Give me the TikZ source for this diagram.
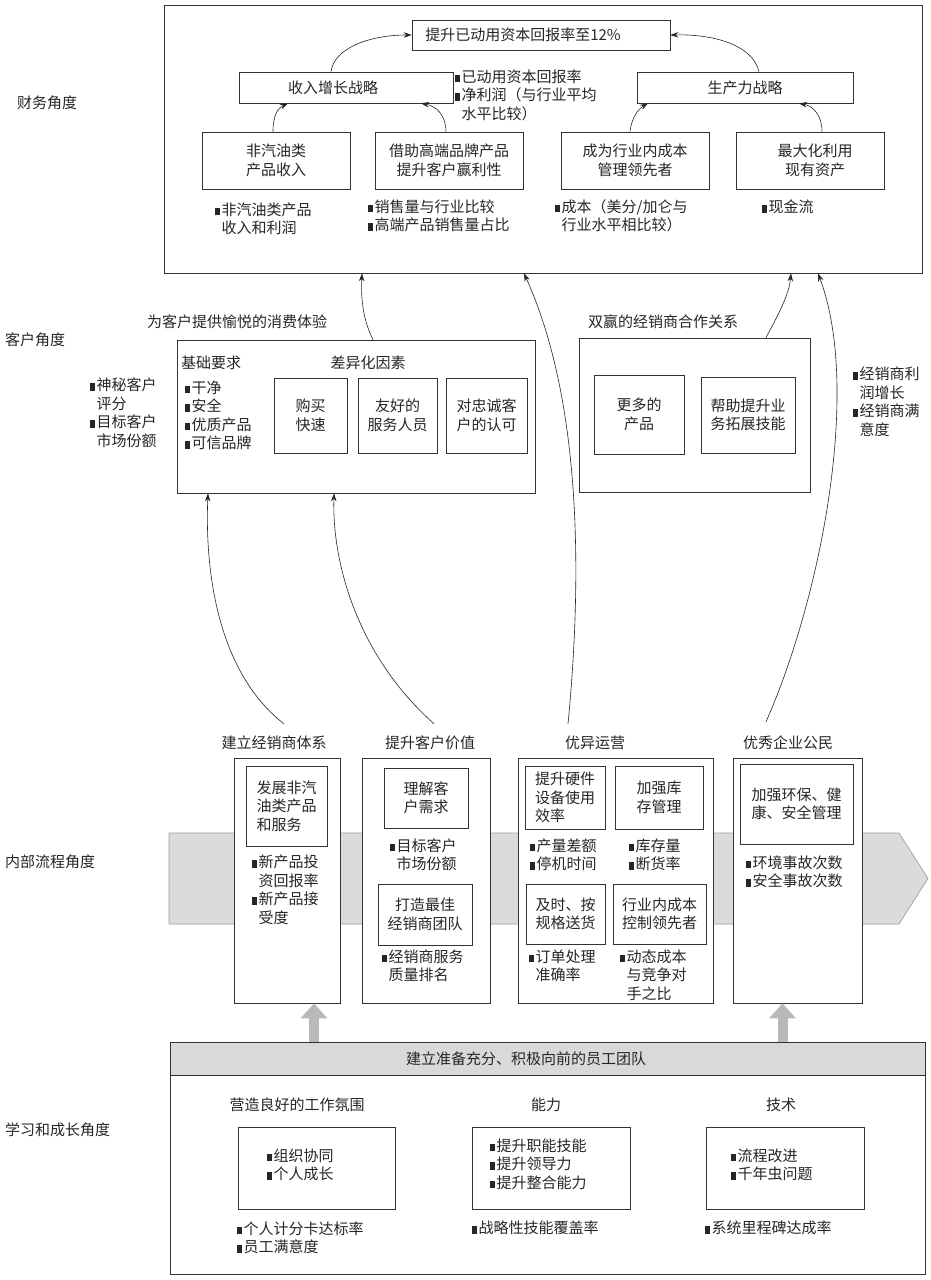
\documentclass[tikz,border=0pt]{standalone}
\usepackage{fontspec}
\newfontfamily\cjk{Noto Sans CJK SC}
\usetikzlibrary{arrows.meta,calc}
\newcommand\cf{\cjk\fontsize{15}{18.5}\selectfont}
\newcommand\bul{\rule{5pt}{7.5pt}\hspace{1.5pt}}
\newcommand\bi{\hspace{6.5pt}}
\tikzset{
  box/.style={draw=black!80, line width=0.7pt, fill=white, inner sep=0pt, align=center, font=\cf, text=black!85},
  txt/.style={inner sep=0pt, font=\cf, align=left, text=black!85},
  arr/.style={-{Stealth[length=8pt,width=5.5pt]}, line width=0.6pt, draw=black!85},
  uparr/.style={line width=10pt, draw=gray!55, -{Triangle[length=15pt,width=26pt]}},
}
\begin{document}
\begin{tikzpicture}[x=1pt,y=-1pt]
\useasboundingbox (0,0) rectangle (931,1280);
\fill[white] (0,0) rectangle (931,1280);

% ---------------- section labels
\node[txt, anchor=west] (lfin) at (17,103) {财务角度};
\node[txt, anchor=west] (lcus) at (5,340) {客户角度};
\node[txt, anchor=west] (lint) at (5,862) {内部流程角度};
\node[txt, anchor=west] (llrn) at (5,1130) {学习和成长角度};

% ---------------- financial
\node[box, minimum width=758pt, minimum height=268pt] (fin) at (543,139) {};
\node[box, minimum width=258pt, minimum height=30pt] (goal) at (541,35) {提升已动用资本回报率至12\%\hspace*{36pt}};
\node[box, minimum width=214pt, minimum height=31pt] (rev) at (346,87.5) {收入增长战略\hspace*{26pt}};
\node[box, minimum width=216pt, minimum height=31pt] (prod) at (745,87.5) {生产力战略};
\node[box, minimum width=148pt, minimum height=57pt] (f1) at (276,160.5) {非汽油类\\产品收入};
\node[box, minimum width=148pt, minimum height=57pt] (f2) at (449,160.5) {借助高端品牌产品\\提升客户赢利性};
\node[box, minimum width=148pt, minimum height=57pt] (f3) at (635,160.5) {成为行业内成本\\管理领先者};
\node[box, minimum width=148pt, minimum height=57pt] (f4) at (810,160.5) {\hspace*{10pt}最大化利用\\\hspace*{10pt}现有资产};

\node[txt, anchor=west] (nrev) at (455,95) {\bul 已动用资本回报率\\\bul 净利润（与行业平均\\\bi 水平比较）};
\node[txt, anchor=west] (nf1) at (215,219) {\bul 非汽油类产品\\\bi 收入和利润};
\node[txt, anchor=west] (nf2) at (368,216) {\bul 销售量与行业比较\\\bul 高端产品销售量占比};
\node[txt, anchor=west] (nf3) at (555,216) {\bul 成本（美分/加仑与\\\bi 行业水平相比较）};
\node[txt, anchor=west] (nf4) at (762,207) {\bul 现金流};

\draw[arr] ([xshift=-15pt]rev.north) .. controls (334,48) and (370,35) .. (goal.west);
\draw[arr] ([xshift=14pt]prod.north) .. controls (753,46) and (716,34) .. (goal.east);
\draw[arr] ([xshift=-3pt]f1.north) .. controls (273,115) and (278,108) .. ([xshift=-58pt]rev.south);
\draw[arr] ([xshift=-3pt]f2.north) .. controls (446,115) and (436,106) .. ([xshift=75pt]rev.south);
\draw[arr] ([xshift=-5pt]f3.north) .. controls (632,115) and (640,108) .. ([xshift=-97pt]prod.south);
\draw[arr] ([xshift=12pt]f4.north) .. controls (822,115) and (813,106) .. ([xshift=54pt]prod.south);

% ---------------- customer
\node[txt] (ctitle) at (237,322) {为客户提供愉悦的消费体验};
\node[box, minimum width=358pt, minimum height=153pt] (lbox) at (356,416.5) {};
\node[txt, anchor=west] (basic) at (181,363) {基础要求};
\node[txt] (diff) at (368,363) {差异化因素};
\node[txt, anchor=west] (blist) at (185,415.5) {\bul 干净\\\bul 安全\\\bul 优质产品\\\bul 可信品牌};
\node[box, minimum width=73pt, minimum height=75pt] (c1) at (310.5,415.5) {购买\\快速};
\node[box, minimum width=79pt, minimum height=75pt] (c2) at (397.5,415.5) {友好的\\服务人员};
\node[box, minimum width=81pt, minimum height=75pt] (c3) at (486.5,415.5) {对忠诚客\\户的认可};

\node[txt] (rtitle) at (663,322) {双赢的经销商合作关系};
\node[box, minimum width=231pt, minimum height=154pt] (rbox) at (694.5,415) {};
\node[box, minimum width=90pt, minimum height=79pt] (c4) at (639,414.5) {更多的\\产品};
\node[box, minimum width=94pt, minimum height=76pt] (c5) at (748,415) {帮助提升业\\务拓展技能};

\node[txt, anchor=west] (cnl) at (90,413) {\bul 神秘客户\\\bi 评分\\\bul 目标客户\\\bi 市场份额};
\node[txt, anchor=west] (cnr) at (853,402) {\bul 经销商利\\\bi 润增长\\\bul 经销商满\\\bi 意度};

\draw[arr] ([xshift=17pt]lbox.north) .. controls (362,318) and (361,295) .. ([xshift=-181pt]fin.south);
\draw[arr] ([xshift=71.5pt]rbox.north) .. controls (778,315) and (789,295) .. ([xshift=248pt]fin.south);

% ---------------- internal process
\draw[fill=gray!28, draw=gray!75, line width=0.7pt] (169,833) -- (899,833) -- (928,878.5) -- (899,924) -- (169,924) -- cycle;

\node[txt] (t1) at (274,743) {建立经销商体系};
\node[txt] (t2) at (430,743) {提升客户价值};
\node[txt] (t3) at (595,743) {优异运营};
\node[txt] (t4) at (788,743) {优秀企业公民};

\node[box, minimum width=106pt, minimum height=245pt] (k1) at (287,880.5) {};
\node[box, minimum width=128pt, minimum height=245pt] (k2) at (426,880.5) {};
\node[box, minimum width=195pt, minimum height=245pt] (k3) at (615.5,880.5) {};
\node[box, minimum width=129pt, minimum height=245pt] (k4) at (797.5,880.5) {};

\node[box, align=left, minimum width=81pt, minimum height=80pt] (i1) at (286.5,806) {发展非汽\\油类产品\\和服务\phantom{汽}};
\node[txt, anchor=west] (b1) at (252,890) {\bul 新产品投\\\bi 资回报率\\\bul 新产品接\\\bi 受度};

\node[box, minimum width=84pt, minimum height=60pt] (i2) at (426,798) {理解客\\户需求};
\node[txt, anchor=west] (b2) at (390,855) {\bul 目标客户\\\bi 市场份额};
\node[box, minimum width=94pt, minimum height=61pt] (i3) at (425,914.5) {打造最佳\\经销商团队};
\node[txt, anchor=west] (b3) at (382,966) {\bul 经销商服务\\\bi 质量排名};

\node[box, align=left, minimum width=80pt, minimum height=63pt] (i4) at (565,797.5) {提升硬件\\设备使用\\效率\phantom{使用}};
\node[box, minimum width=88pt, minimum height=63pt] (i5) at (659,797.5) {加强库\\存管理};
\node[txt, anchor=west] (b4) at (530,855) {\bul 产量差额\\\bul 停机时间};
\node[txt, anchor=west] (b5) at (629,855) {\bul 库存量\\\bul 断货率};
\node[box, minimum width=79pt, minimum height=60pt] (i6) at (565.5,914) {及时、按\\规格送货};
\node[box, minimum width=93pt, minimum height=60pt] (i7) at (659.5,914) {行业内成本\\控制领先者};
\node[txt, anchor=west] (b6) at (529,966) {\bul 订单处理\\\bi 准确率};
\node[txt, anchor=west] (b7) at (620,975) {\bul 动态成本\\\bi 与竞争对\\\bi 手之比};

\node[box, align=left, minimum width=113pt, minimum height=80pt] (i8) at (796.5,804) {加强环保、健\\康、安全管理};
\node[txt, anchor=west] (b8) at (746,872) {\bul 环境事故次数\\\bul 安全事故次数};

% long connectors
\draw[arr] ([xshift=10pt,yshift=12pt]t1.north) .. controls (215,670) and (205,565) .. ([xshift=-148pt]lbox.south);
\draw[arr] ([xshift=4pt,yshift=12pt]t2.north) .. controls (362,660) and (332,570) .. ([xshift=-22pt]lbox.south);
\draw[arr] ([xshift=-27pt,yshift=12pt]t3.north) .. controls (580,600) and (586,410) .. ([xshift=-19pt]fin.south);
\draw[arr] ([xshift=-22pt,yshift=14pt]t4.north) .. controls (820,600) and (862,390) .. ([xshift=275pt]fin.south);

% ---------------- learning & growth
\node[box, minimum width=755pt, minimum height=232pt] (lrn) at (547.5,1158) {};
\node[draw=black!80, fill=gray!30, line width=0.7pt, inner sep=0pt, minimum width=755pt, minimum height=33pt] (hdr) at (547.5,1058.5) {};
\node[txt] (htxt) at (526,1059) {建立准备充分、积极向前的员工团队};

\draw[uparr] ([xshift=27pt]k1.south |- hdr.north) -- ([xshift=27pt]k1.south);
\draw[uparr] ([xshift=-15pt]k4.south |- hdr.north) -- ([xshift=-15pt]k4.south);

\node[txt] (g1) at (297,1105) {营造良好的工作氛围};
\node[txt] (g2) at (546,1105) {能力};
\node[txt] (g3) at (781,1105) {技术};

\node[box, minimum width=157pt, minimum height=82pt] (L1) at (316.5,1168) {};
\node[box, minimum width=158pt, minimum height=82pt] (L2) at (551,1168) {};
\node[box, minimum width=158pt, minimum height=82pt] (L3) at (785,1168) {};
\node[txt, anchor=west] (L1t) at (267,1165) {\bul 组织协同\\\bul 个人成长};
\node[txt, anchor=west] (L2t) at (490,1164) {\bul 提升职能技能\\\bul 提升领导力\\\bul 提升整合能力};
\node[txt, anchor=west] (L3t) at (731,1165) {\bul 流程改进\\\bul 千年虫问题};

\node[txt, anchor=west] (m1) at (237,1238) {\bul 个人计分卡达标率\\\bul 员工满意度};
\node[txt, anchor=west] (m2) at (472,1228) {\bul 战略性技能覆盖率};
\node[txt, anchor=west] (m3) at (705,1228) {\bul 系统里程碑达成率};
\end{tikzpicture}
\end{document}
